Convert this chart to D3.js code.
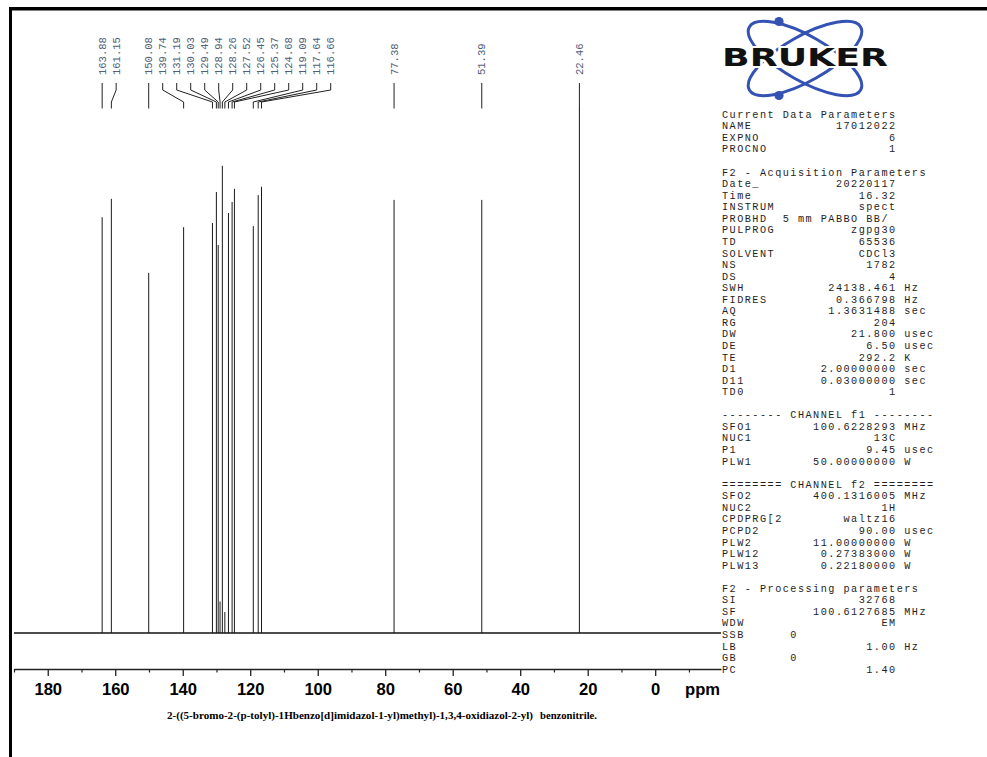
<!DOCTYPE html>
<html>
<head>
<meta charset="utf-8">
<script src="https://cdn.jsdelivr.net/npm/d3@7"></script>
<style>
  body { margin: 0; background: #fff; }
  svg { display: block; }
  .mono { white-space: pre; }
</style>
</head>
<body>
<script>
// peak list (ppm) and peak heights (arbitrary units, 100 = top of plot)
const peakPpm = [163.88, 161.15, 150.08, 139.74, 131.19, 130.03, 129.49, 128.94, 128.26,
  127.52, 126.45, 125.37, 124.68, 119.09, 117.64, 116.66, 77.38, 51.39, 22.46];
const peakHeight = [79.2, 82.7, 68.6, 77.3, 78.1, 84.0, 73.9, 6, 89.0,
  4, 80.0, 82.1, 84.6, 77.5, 83.4, 85.0, 82.5, 82.5, 130];

const majorTicks = [180, 160, 140, 120, 100, 80, 60, 40, 20, 0];
const minorTicks = [190, 170, 150, 130, 110, 90, 70, 50, 30, 10, -10];

const currentParams = [["NAME", "17012022"], ["EXPNO", "6"], ["PROCNO", "1"]];
const acqParams = [["Date_", "20220117"], ["Time", "16.32"], ["INSTRUM", "spect"],
  ["PROBHD", "5 mm PABBO BB/ "], ["PULPROG", "zgpg30"], ["TD", "65536"], ["SOLVENT", "CDCl3"],
  ["NS", "1782"], ["DS", "4"], ["SWH", "24138.461", "Hz"], ["FIDRES", "0.366798", "Hz"],
  ["AQ", "1.3631488", "sec"], ["RG", "204"], ["DW", "21.800", "usec"], ["DE", "6.50", "usec"],
  ["TE", "292.2", "K"], ["D1", "2.00000000", "sec"], ["D11", "0.03000000", "sec"], ["TD0", "1"]];
const f1Params = [["SFO1", "100.6228293", "MHz"], ["NUC1", "13C"], ["P1", "9.45", "usec"],
  ["PLW1", "50.00000000", "W"]];
const f2Params = [["SFO2", "400.1316005", "MHz"], ["NUC2", "1H"], ["CPDPRG[2", "waltz16"],
  ["PCPD2", "90.00", "usec"], ["PLW2", "11.00000000", "W"], ["PLW12", "0.27383000", "W"],
  ["PLW13", "0.22180000", "W"]];
const procParams = [["SI", "32768"], ["SF", "100.6127685", "MHz"], ["WDW", "EM"],
  ["SSB", "0             "], ["LB", "1.00", "Hz"], ["GB", "0             "], ["PC", "1.40"]];

const titleMain = "2-((5-bromo-2-(p-tolyl)-1Hbenzo[d]imidazol-1-yl)methyl)-1,3,4-oxidiazol-2-yl)";
const titleEnd = "benzonitrile.";

const width = 987;
const height = 757;

const svg = d3.select('body').append('svg')
  .attr('width', width)
  .attr('height', height);

svg.append('rect').attr('width', width).attr('height', height).attr('fill', '#fff');

// page frame
svg.append('rect').attr('x', 9).attr('y', 7).attr('width', width - 9).attr('height', 3.5).attr('fill', '#000');
svg.append('rect').attr('x', 9).attr('y', 7).attr('width', 3).attr('height', height - 7).attr('fill', '#000');

// scales
const x = d3.scaleLinear().domain([190, -19.5]).range([14, 721]);
const y = d3.scaleLinear().domain([0, 100]).range([633, 108]);

// clip peaks at top of plot
svg.append('clipPath').attr('id', 'plotclip')
  .append('rect').attr('x', 0).attr('y', y(100)).attr('width', 740).attr('height', y(0) - y(100) + 5);

// baseline
svg.append('line')
  .attr('x1', x(190)).attr('x2', x(-19.5))
  .attr('y1', y(0)).attr('y2', y(0))
  .attr('stroke', '#111').attr('stroke-width', 1.6);

// peaks
svg.append('g').attr('clip-path', 'url(#plotclip)')
  .selectAll('line').data(peakPpm).join('line')
  .attr('x1', d => x(d)).attr('x2', d => x(d))
  .attr('y1', y(0)).attr('y2', (d, i) => y(peakHeight[i]))
  .attr('stroke', '#1a1a1a').attr('stroke-width', 1);

// label layout: spread crowded labels with a minimum gap
function layoutLabels(xs, gap) {
  const blocks = [];
  xs.forEach((v, i) => {
    let b = { start: i, end: i, sum: v - i * gap, n: 1 };
    while (blocks.length && blocks[blocks.length - 1].sum / blocks[blocks.length - 1].n > b.sum / b.n) {
      const p = blocks.pop();
      b = { start: p.start, end: b.end, sum: p.sum + b.sum, n: p.n + b.n };
    }
    blocks.push(b);
  });
  const out = [];
  blocks.forEach(b => {
    for (let i = b.start; i <= b.end; i++) out[i] = xs[b.start] + (i - b.start) * gap;
  });
  return out;
}

const peakX = peakPpm.map(d => x(d));
const labelX = layoutLabels(peakX, 14);

// connectors
svg.append('g').selectAll('path').data(peakPpm).join('path')
  .attr('d', (d, i) => `M${labelX[i]},83 L${labelX[i]},90 L${peakX[i]},102 L${peakX[i]},108.5`)
  .attr('fill', 'none').attr('stroke', '#222').attr('stroke-width', 1);

// peak labels
svg.append('g').selectAll('text').data(peakPpm).join('text')
  .attr('transform', (d, i) => `translate(${labelX[i] + 3.6},75) rotate(-90)`)
  .attr('font-family', '"Liberation Mono", monospace')
  .attr('font-size', 10.5)
  .attr('fill', '#50607a')
  .text(d => d.toFixed(2));

// x axis
const axisY = 669;
const axisG = svg.append('g').attr('transform', `translate(0,${axisY})`)
  .call(d3.axisBottom(x).tickValues(majorTicks).tickSize(7).tickSizeOuter(0).tickFormat(d3.format('d')));
axisG.select('.domain').attr('stroke', '#222').attr('stroke-width', 1.3);
axisG.selectAll('.tick line').attr('stroke', '#222').attr('stroke-width', 1.3);
axisG.selectAll('.tick text')
  .attr('y', 25.7).attr('dy', 0)
  .attr('font-family', '"Liberation Sans", Arial, sans-serif')
  .attr('font-weight', 'bold').attr('font-size', 16.6).attr('fill', '#000');

const minorG = svg.append('g').attr('transform', `translate(0,${axisY})`)
  .call(d3.axisBottom(x).tickValues(minorTicks).tickSize(3.5).tickSizeOuter(0).tickFormat(''));
minorG.select('.domain').remove();
minorG.selectAll('.tick line').attr('stroke', '#222').attr('stroke-width', 1.2);

svg.append('text')
  .attr('x', 685).attr('y', 695)
  .attr('font-family', '"Liberation Sans", Arial, sans-serif')
  .attr('font-weight', 'bold').attr('font-size', 16.6)
  .text('ppm');

// title
svg.append('text')
  .attr('x', 167).attr('y', 719)
  .attr('font-family', '"Liberation Serif", "Times New Roman", serif')
  .attr('font-weight', 'bold').attr('font-size', 10)
  .attr('textLength', 366).attr('lengthAdjust', 'spacingAndGlyphs')
  .text(titleMain);
svg.append('text')
  .attr('x', 540).attr('y', 719)
  .attr('font-family', '"Liberation Serif", "Times New Roman", serif')
  .attr('font-weight', 'bold').attr('font-size', 10)
  .attr('textLength', 57).attr('lengthAdjust', 'spacingAndGlyphs')
  .text(titleEnd);

// Bruker logo
const logo = svg.append('g');
const lcx = 805, lcy = 58.5;
[29.6, -29.6].forEach(a => {
  logo.append('ellipse')
    .attr('cx', lcx).attr('cy', lcy).attr('rx', 64).attr('ry', 22.5)
    .attr('transform', `rotate(${a},${lcx},${lcy})`)
    .attr('fill', 'none').attr('stroke', '#3452b4').attr('stroke-width', 3);
});
[[779, 21.5], [779, 95.5]].forEach(p => {
  logo.append('circle').attr('cx', p[0]).attr('cy', p[1]).attr('r', 4.6).attr('fill', '#3452b4');
});
logo.append('text')
  .attr('x', 722).attr('y', 66.3)
  .attr('font-family', '"DejaVu Sans", sans-serif')
  .attr('font-weight', 'bold').attr('font-size', 25)
  .attr('textLength', 166).attr('lengthAdjust', 'spacingAndGlyphs')
  .attr('fill', '#111')
  .attr('stroke', '#fff').attr('stroke-width', 4).attr('paint-order', 'stroke')
  .text('BRUKER');

// parameter panel
function fmt(row) {
  const line = row[0] + row[1].padStart(23 - row[0].length);
  return row[2] ? line + ' ' + row[2] : line;
}
const panelLines = [].concat(
  ['Current Data Parameters'], currentParams.map(fmt), [''],
  ['F2 - Acquisition Parameters'], acqParams.map(fmt), [''],
  ['-------- CHANNEL f1 --------'], f1Params.map(fmt), [''],
  ['======== CHANNEL f2 ========'], f2Params.map(fmt), [''],
  ['F2 - Processing parameters'], procParams.map(fmt)
);

svg.append('g').selectAll('text').data(panelLines).join('text')
  .attr('class', 'mono')
  .attr('xml:space', 'preserve')
  .attr('x', 722)
  .attr('y', (d, i) => 117.8 + i * 11.56)
  .attr('font-family', '"Liberation Mono", monospace')
  .attr('font-size', 10.2)
  .attr('letter-spacing', 1.48)
  .attr('fill', '#1e1e1e')
  .text(d => d);
</script>
</body>
</html>
